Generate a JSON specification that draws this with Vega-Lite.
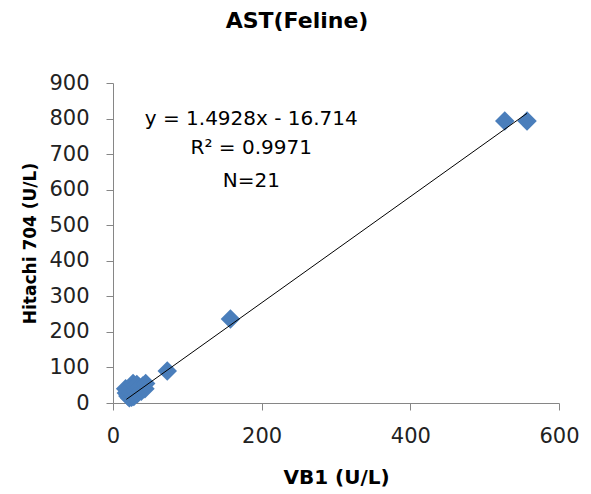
{
  "$schema": "https://vega.github.io/schema/vega-lite/v6.json",
  "width": 446,
  "height": 320,
  "autosize": "none",
  "padding": {"left": 113, "top": 83, "right": 32, "bottom": 91},
  "background": "white",
  "title": {"text": "AST(Feline)", "fontSize": 22, "font": "DejaVu Sans", "fontWeight": "bold", "color": "#000000", "offset": 39, "anchor": "middle", "frame": "group", "dx": -39},
  "config": {
    "view": {"stroke": null},
    "axis": {"grid": false, "domainColor": "#868686", "tickColor": "#868686", "tickSize": 7, "labelFont": "DejaVu Sans", "labelFontSize": 21, "labelColor": "#222222", "labelOverlap": false, "labelBound": false, "labelFlush": false, "titleFont": "DejaVu Sans", "titleFontWeight": "bold", "titleColor": "#000000"}
  },
  "datasets": {
    "points": [
      {"vb1": 527, "hitachi": 793},
      {"vb1": 557, "hitachi": 793},
      {"vb1": 158, "hitachi": 236},
      {"vb1": 73, "hitachi": 90},
      {"vb1": 17, "hitachi": 40},
      {"vb1": 18, "hitachi": 28},
      {"vb1": 20, "hitachi": 20},
      {"vb1": 22, "hitachi": 15},
      {"vb1": 25, "hitachi": 16},
      {"vb1": 28, "hitachi": 18},
      {"vb1": 24, "hitachi": 30},
      {"vb1": 27, "hitachi": 25},
      {"vb1": 30, "hitachi": 35},
      {"vb1": 33, "hitachi": 27},
      {"vb1": 27, "hitachi": 55},
      {"vb1": 32, "hitachi": 52},
      {"vb1": 35, "hitachi": 45},
      {"vb1": 38, "hitachi": 33},
      {"vb1": 40, "hitachi": 48},
      {"vb1": 43, "hitachi": 40},
      {"vb1": 44, "hitachi": 55}
    ],
    "trend": [
      {"vb1": 18, "hitachi": 10.2},
      {"vb1": 557, "hitachi": 814.8}
    ],
    "notes": [
      {"label": "y = 1.4928x - 16.714", "vb1": 186, "hitachi": 799},
      {"label": "R² = 0.9971", "vb1": 186, "hitachi": 717},
      {"label": "N=21", "vb1": 186, "hitachi": 624}
    ]
  },
  "encoding": {
    "x": {"field": "vb1", "type": "quantitative", "scale": {"domain": [0, 600], "nice": false}, "axis": {"values": [0, 200, 400, 600], "title": "VB1 (U/L)", "titleFontSize": 20, "labelPadding": 15, "titlePadding": 21}},
    "y": {"field": "hitachi", "type": "quantitative", "scale": {"domain": [0, 900], "nice": false}, "axis": {"values": [0, 100, 200, 300, 400, 500, 600, 700, 800, 900], "title": "Hitachi 704 (U/L)", "titleFontSize": 17, "labelPadding": 17, "titlePadding": 9}}
  },
  "layer": [
    {
      "data": {"name": "points"},
      "mark": {"type": "point", "shape": "diamond", "filled": true, "size": 380, "color": "#4A7EBB", "opacity": 1}
    },
    {
      "data": {"name": "trend"},
      "mark": {"type": "line", "color": "#000000", "strokeWidth": 1}
    },
    {
      "data": {"name": "notes"},
      "mark": {"type": "text", "font": "DejaVu Sans", "fontSize": 20, "color": "#000000", "align": "center", "baseline": "middle"},
      "encoding": {
        "text": {"field": "label"}
      }
    }
  ]
}
